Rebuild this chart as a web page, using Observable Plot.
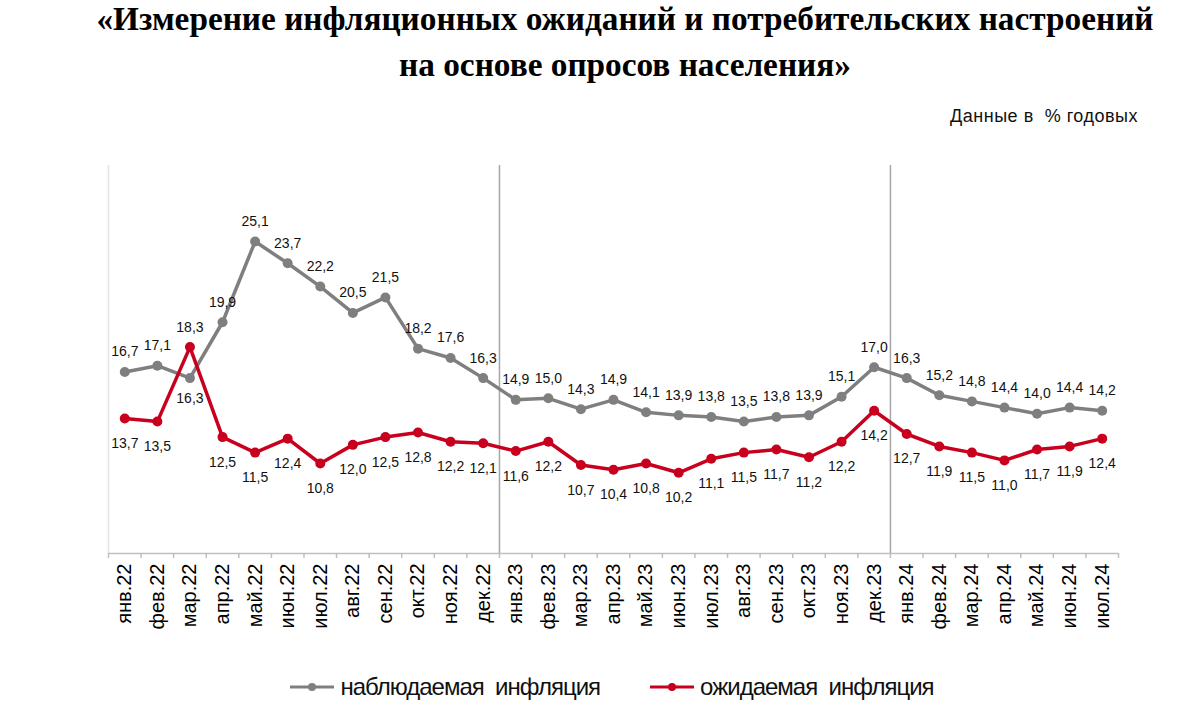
<!DOCTYPE html>
<html><head><meta charset="utf-8">
<script src="https://cdn.jsdelivr.net/npm/d3@7"></script>
<script src="https://cdn.jsdelivr.net/npm/@observablehq/plot@0.6"></script>
<style>
body{margin:0;background:#fff;width:1200px;height:703px;overflow:hidden;position:relative;font-family:"Liberation Sans",Arial,sans-serif;}
.title{position:absolute;left:0;width:1250px;text-align:center;font-family:"Liberation Serif","Times New Roman",serif;font-weight:bold;font-size:33.3px;line-height:37px;color:#000;}
#t1{top:0;}
#t2{top:46px;}
#sub{position:absolute;right:62px;top:106px;font-size:18px;letter-spacing:0.5px;color:#111;white-space:pre;}
#chart{position:absolute;left:0;top:130px;}
#legend{position:absolute;top:673px;left:0;width:1224px;display:flex;justify-content:center;gap:50px;font-size:24px;line-height:28px;letter-spacing:-1px;color:#111;white-space:pre;}
#legend .it{display:flex;align-items:center;gap:6px;}
</style></head>
<body>
<div class="title" id="t1">«Измерение инфляционных ожиданий и потребительских настроений</div>
<div class="title" id="t2">на основе опросов населения»</div>
<div id="sub">Данные в  % годовых</div>
<div id="chart"></div>
<div id="legend"></div>
<script>
const months = ["янв.22","фев.22","мар.22","апр.22","май.22","июн.22","июл.22","авг.22","сен.22","окт.22","ноя.22","дек.22",
"янв.23","фев.23","мар.23","апр.23","май.23","июн.23","июл.23","авг.23","сен.23","окт.23","ноя.23","дек.23",
"янв.24","фев.24","мар.24","апр.24","май.24","июн.24","июл.24"];
const observed = [16.7,17.1,16.3,19.9,25.1,23.7,22.2,20.5,21.5,18.2,17.6,16.3,14.9,15.0,14.3,14.9,14.1,13.9,13.8,13.5,13.8,13.9,15.1,17.0,16.3,15.2,14.8,14.4,14.0,14.4,14.2];
const expected = [13.7,13.5,18.3,12.5,11.5,12.4,10.8,12.0,12.5,12.8,12.2,12.1,11.6,12.2,10.7,10.4,10.8,10.2,11.1,11.5,11.7,11.2,12.2,14.2,12.7,11.9,11.5,11.0,11.7,11.9,12.4];
const seriesNames = ["наблюдаемая  инфляция","ожидаемая  инфляция"];
const colors = ["#7f7f7f","#c8001e"];

const rows = [];
months.forEach((m,i)=>{
  const o = observed[i], e = expected[i];
  rows.push({i, m, v:o, s:seriesNames[0], above: o >= e});
  rows.push({i, m, v:e, s:seriesNames[1], above: e > o});
});
const fmt = v => v.toFixed(1).replace(".", ",");
const idx = months.map((_,i)=>i);
const bounds = d3.range(months.length+1).map(i=>i-0.5);
const yearBreaks = idx.filter(i => i>0 && months[i].slice(-2)!==months[i-1].slice(-2)).map(i=>i-0.5);
const labelStyle = {fontSize:14, fill:"#111", letterSpacing:"-0.4px"};

const plot = Plot.plot({
  width:1200, height:520,
  marginTop:35, marginBottom:97, marginLeft:108, marginRight:82,
  x:{type:"linear", domain:[-0.5, months.length-0.5]},
  y:{domain:[5,30], axis:null},
  style:{fontFamily:"'Liberation Sans', Arial, sans-serif", background:"transparent"},
  marks:[
    Plot.ruleX([-0.5], {stroke:"#e4e4e4", strokeWidth:1.5}),
    Plot.ruleX(yearBreaks, {stroke:"#a6a6a6", strokeWidth:1.5}),
    Plot.ruleY([5], {stroke:"#bfbfbf", strokeWidth:1.5}),
    Plot.axisX({ticks:bounds, tickFormat:()=>"", tickSize:5, stroke:"#bfbfbf", strokeWidth:1.5, label:null}),
    Plot.axisX({ticks:idx, tickFormat:i=>months[i], tickSize:0, tickPadding:10, tickRotate:-90, fontSize:20, fill:"#000", label:null}),
    Plot.line(rows, {x:"i", y:"v", z:"s", stroke:"s", strokeWidth:3.5, curve:"linear"}),
    Plot.dot(rows, {x:"i", y:"v", fill:"s", r:5}),
    Plot.text(rows.filter(d=>d.above), {x:"i", y:"v", text:d=>fmt(d.v), dy:-20, ...labelStyle}),
    Plot.text(rows.filter(d=>!d.above && d.s===seriesNames[0]), {x:"i", y:"v", text:d=>fmt(d.v), dy:20, ...labelStyle}),
    Plot.text(rows.filter(d=>!d.above && d.s===seriesNames[1]), {x:"i", y:"v", text:d=>fmt(d.v), dy:25, ...labelStyle})
  ],
  color:{domain:seriesNames, range:colors}
});
document.getElementById("chart").appendChild(plot);

const leg = document.getElementById("legend");
seriesNames.forEach((n,k)=>{
  const it = document.createElement("div"); it.className="it";
  it.innerHTML = `<svg width="44" height="10"><line x1="0" y1="5" x2="44" y2="5" stroke="${colors[k]}" stroke-width="3"/><circle cx="22" cy="5" r="4" fill="${colors[k]}"/></svg>`;
  const t = document.createElement("span"); t.textContent = n; it.appendChild(t);
  leg.appendChild(it);
});
</script>
</body></html>
